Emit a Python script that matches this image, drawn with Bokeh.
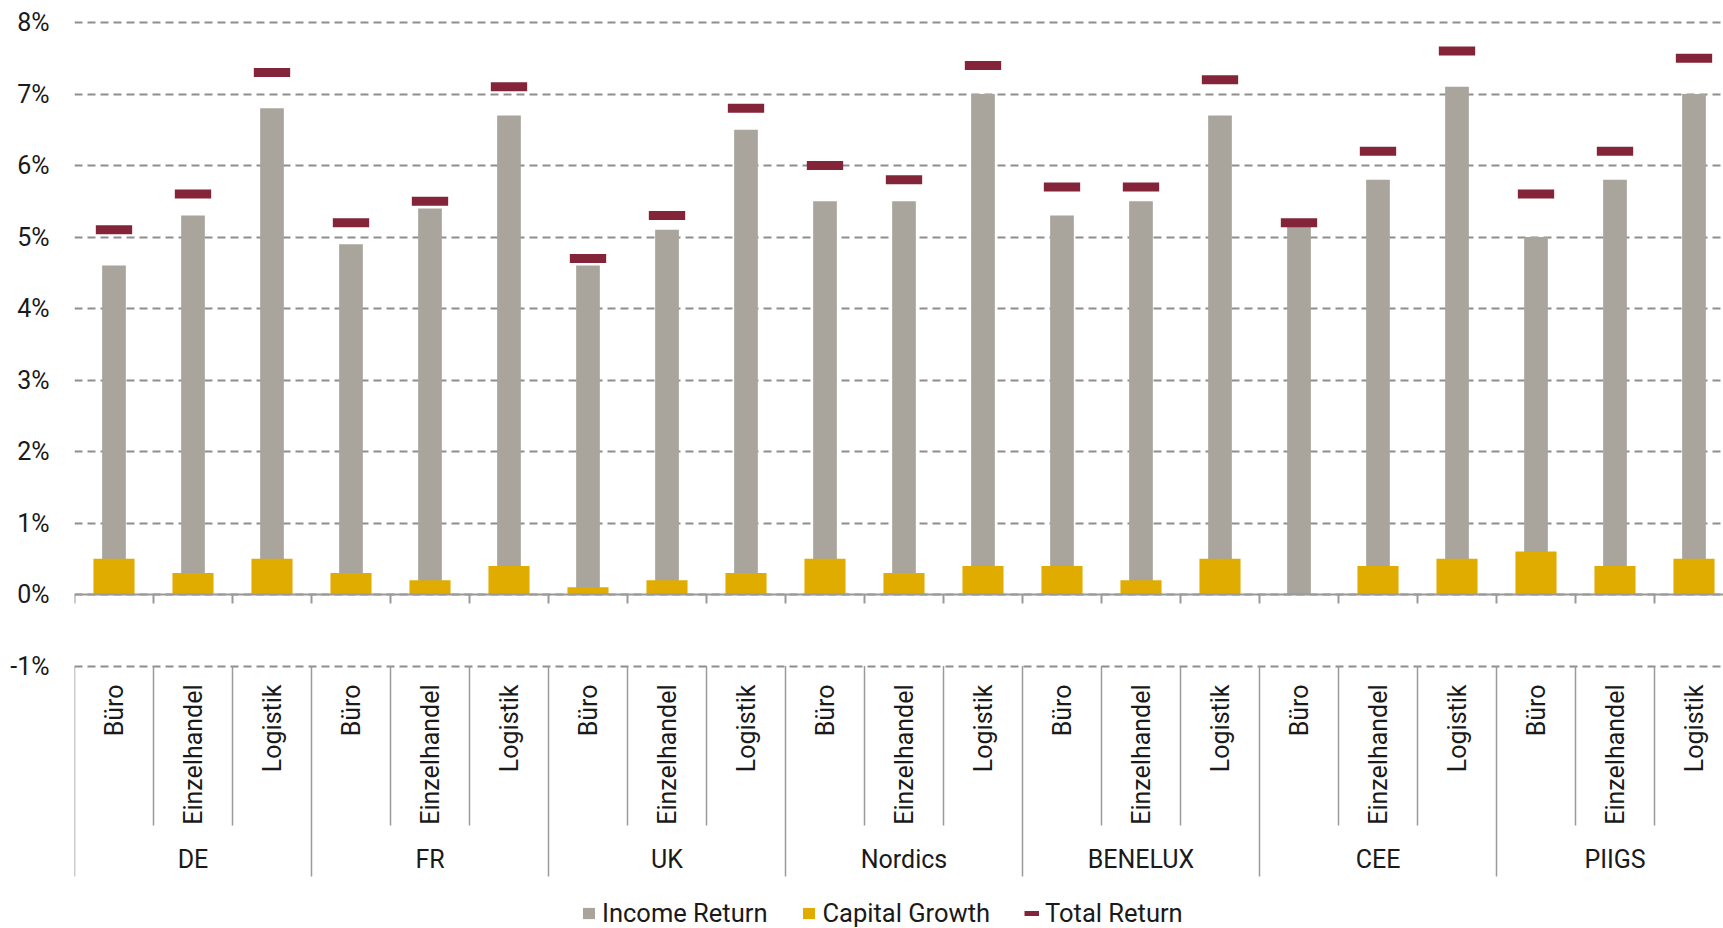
from math import pi

from bokeh.core.properties import value
from bokeh.embed import file_html
from bokeh.models import (ColumnDataSource, FixedTicker, Legend, LegendItem,
                          Range1d, Span)
from bokeh.plotting import figure
from bokeh.resources import INLINE

# ---- data -----------------------------------------------------------------
regions = ["DE", "FR", "UK", "Nordics", "BENELUX", "CEE", "PIIGS"]
sectors = ["Büro", "Einzelhandel", "Logistik"]

income_return = [4.6, 5.3, 6.8,  4.9, 5.4, 6.7,  4.6, 5.1, 6.5,
                 5.5, 5.5, 7.0,  5.3, 5.5, 6.7,  5.2, 5.8, 7.1,
                 5.0, 5.8, 7.0]
capital_growth = [0.5, 0.3, 0.5,  0.3, 0.2, 0.4,  0.1, 0.2, 0.3,
                  0.5, 0.3, 0.4,  0.4, 0.2, 0.5,  0.0, 0.4, 0.5,
                  0.6, 0.4, 0.5]
total_return = [5.1, 5.6, 7.3,  5.2, 5.5, 7.1,  4.7, 5.3, 6.8,
                6.0, 5.8, 7.4,  5.7, 5.7, 7.2,  5.2, 6.2, 7.6,
                5.6, 6.2, 7.5]

y_ticks = [-1, 0, 1, 2, 3, 4, 5, 6, 7, 8]
y_tick_labels = ["-1%", "0%", "1%", "2%", "3%", "4%", "5%", "6%", "7%", "8%"]

# ---- styling / layout -------------------------------------------------------
W, H = 1723, 928
LEFT = 74            # frame left edge (px)
CAT_PX = 79          # width of one category slot (px)
PX_PER_PCT = 71.5    # vertical scale (px per percentage point)
ZERO_PX = 594        # screen row of the 0% line

GREY = "#A9A59D"
GOLD = "#E0AC00"
WINE = "#842438"
GRID = "#8E8E8E"
AXIS = "#9A9A9A"
INK = "#1A1A1A"
FONT = "Roboto"


def px_to_val(py):
    """Screen row -> percentage value on the y scale."""
    return (ZERO_PX - py) / PX_PER_PCT


n = len(income_return)
centers = [i + 0.5 for i in range(n)]
cat_labels = [sectors[i % len(sectors)] for i in range(n)]
group_centers = [g * len(sectors) + len(sectors) / 2 for g in range(len(regions))]

p = figure(
    width=W, height=H,
    output_backend="svg", toolbar_location=None,
    x_range=Range1d(0, (W - LEFT) / CAT_PX),
    y_range=Range1d(px_to_val(H), px_to_val(0)),
    x_axis_location=None,
    min_border_left=LEFT, min_border_right=0,
    min_border_top=0, min_border_bottom=0,
)
p.outline_line_color = None
p.background_fill_color = "white"
p.border_fill_color = "white"
p.xgrid.visible = False

# y axis and dashed grid
yax = p.yaxis[0]
yax.ticker = FixedTicker(ticks=y_ticks)
yax.major_label_overrides = dict(zip(y_ticks, y_tick_labels))
yax.axis_line_color = None
yax.major_tick_line_color = None
yax.minor_tick_line_color = None
yax.major_tick_out = 0
yax.major_tick_in = 0
yax.major_label_standoff = 25
yax.major_label_text_font = FONT
yax.major_label_text_font_size = "25px"
yax.major_label_text_color = INK

p.ygrid.ticker = FixedTicker(ticks=y_ticks)
p.ygrid.grid_line_color = GRID
p.ygrid.grid_line_width = 2
p.ygrid.grid_line_dash = "8 5"

src = ColumnDataSource(dict(
    x=centers, income=income_return, capital=capital_growth,
    total=total_return, label=cat_labels,
))

# bars: income return behind, capital growth in front, total return marker
r_income = p.vbar(x="x", top="income", bottom=0, width=0.30, source=src,
                  fill_color=GREY, line_color=None)
r_capital = p.vbar(x="x", top="capital", bottom=0, width=0.52, source=src,
                   fill_color=GOLD, line_color=None)
p.rect(x="x", y="total", width=0.46, height=9, height_units="screen",
       source=src, fill_color=WINE, line_color=None)
# zero-length strokes at the totals: invisible in the plot, used as legend key
r_total_key = p.segment(x0="x", x1="x", y0="total", y1="total", source=src,
                        line_color=WINE, line_width=5, line_cap="butt")

# zero line with small ticks at the category boundaries
p.add_layout(Span(location=0, dimension="width", line_color=AXIS,
                  line_width=2, level="overlay"))
bounds = list(range(n + 1))
p.segment(x0=bounds, x1=bounds, y0=[0] * len(bounds),
          y1=[px_to_val(ZERO_PX + 9)] * len(bounds),
          line_color=AXIS, line_width=2)

# category separators below the -1% line
inner = [b for b in bounds if b % len(sectors) != 0]
outer = [b for b in bounds if b % len(sectors) == 0]
p.segment(x0=inner, x1=inner, y0=[-1] * len(inner),
          y1=[px_to_val(825)] * len(inner), line_color=AXIS, line_width=1.5)
p.segment(x0=outer, x1=outer, y0=[-1] * len(outer),
          y1=[px_to_val(876)] * len(outer), line_color=AXIS, line_width=1.5)

# sector names (rotated) and region names
p.text(x="x", y=px_to_val(684), text="label", source=src, angle=pi / 2,
       text_align="right", text_baseline="middle",
       text_font=value(FONT), text_font_size="25px", text_color=INK)
p.text(x=group_centers, y=[px_to_val(859)] * len(regions), text=regions,
       text_align="center", text_baseline="middle",
       text_font=value(FONT), text_font_size="25px", text_color=INK)

legend = Legend(
    items=[
        LegendItem(label="Income Return", renderers=[r_income]),
        LegendItem(label="Capital Growth", renderers=[r_capital]),
        LegendItem(label="Total Return", renderers=[r_total_key]),
    ],
    orientation="horizontal",
    location=(581 - LEFT, 0),
    glyph_width=15, glyph_height=14,
    label_standoff=6, spacing=34,
    padding=0, margin=0,
    border_line_color=None, background_fill_alpha=0,
    label_text_font=FONT, label_text_font_size="25.5px",
    label_text_color=INK, label_height=14,
)
p.add_layout(legend)

open("out.html", "w").write(file_html(p, INLINE))
